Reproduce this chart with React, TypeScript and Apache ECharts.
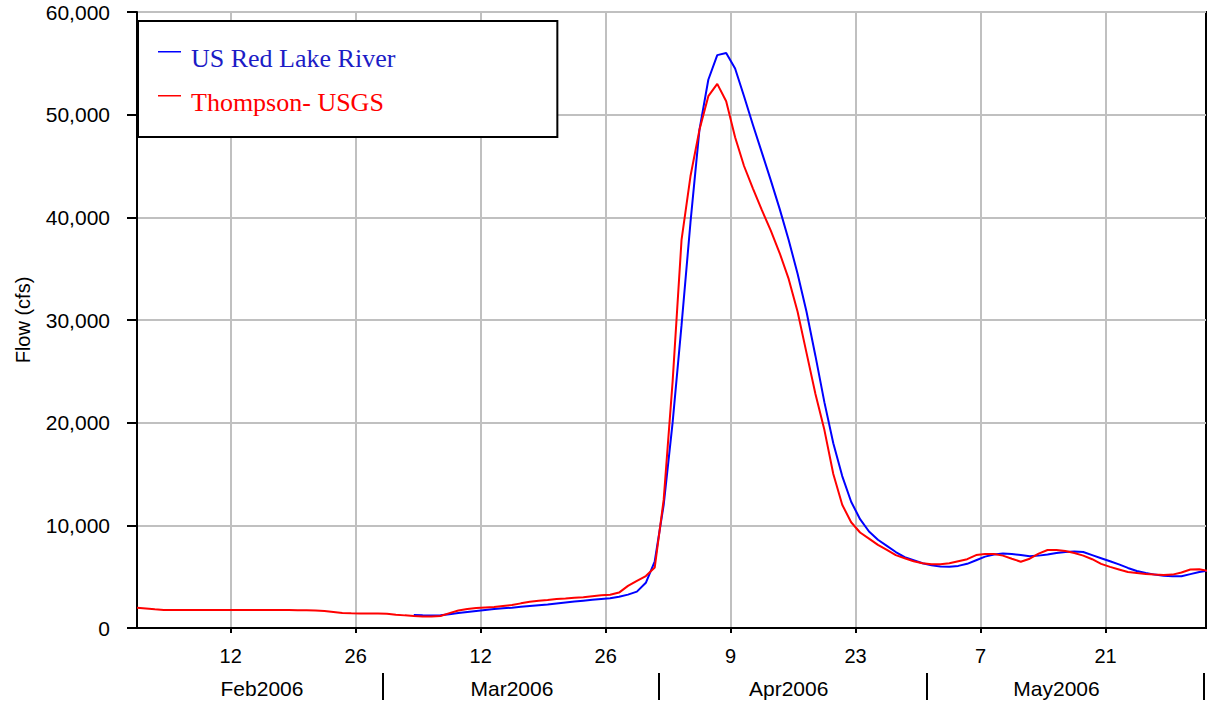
import React, { useEffect, useRef } from 'react';
import * as echarts from 'echarts';

// ---- data (daily mean flow, cfs) ----
const ORIGIN = Date.UTC(2006, 1, 1);
const dayOf = (s: string) => {
  const [y, m, d] = s.split('-').map(Number);
  return (Date.UTC(y, m - 1, d) - ORIGIN) / 86400000;
};

const seriesNames = ['US Red Lake River', 'Thompson- USGS'];

const redStart = '2006-02-01';
const redFlow = [
  1980, 1900, 1820, 1760, 1750, 1750, 1750, 1750, 1750, 1750,
  1750, 1750, 1750, 1750, 1750, 1750, 1750, 1750, 1740, 1720,
  1700, 1650, 1560, 1470, 1430, 1420, 1420, 1410, 1380, 1300,
  1230, 1170, 1120, 1110, 1170, 1450, 1700, 1850, 1950, 2000,
  2050, 2150, 2240, 2400, 2550, 2650, 2730, 2820, 2880, 2950,
  3000, 3100, 3200, 3230, 3450, 4100, 4600, 5060, 5900, 12500,
  24000, 37800, 44000, 48500, 51800, 53000, 51300, 47800, 45000, 42800,
  40700, 38700, 36500, 34000, 30800, 26800, 22800, 19300, 15000, 12000,
  10300, 9300, 8700, 8100, 7600, 7100, 6800, 6500, 6300, 6200,
  6200, 6300, 6500, 6700, 7100, 7200, 7200, 7050, 6750, 6460,
  6750, 7250, 7600, 7600, 7500, 7300, 7050, 6700, 6250, 5950,
  5700, 5450, 5350, 5250, 5200, 5160, 5200, 5400, 5700, 5720,
  5550,
];

const blueStart = '2006-03-04';
const blueFlow = [
  1270, 1240, 1220, 1250, 1350, 1450, 1550, 1650, 1750, 1850,
  1920, 1980, 2060, 2140, 2220, 2300, 2390, 2480, 2570, 2660,
  2750, 2830, 2900, 3050, 3250, 3540, 4400, 6500, 12000, 20000,
  29500, 39500, 48500, 53400, 55800, 56000, 54500, 51800, 49000, 46300,
  43600, 40800, 37800, 34500, 30800, 26500, 22000, 18000, 14800, 12300,
  10600, 9400, 8600, 8000, 7400, 6900, 6600, 6300, 6100, 6000,
  5970, 6050, 6250, 6600, 6950, 7150, 7250, 7200, 7100, 7000,
  7050, 7150, 7300, 7400, 7450, 7400, 7100, 6800, 6500, 6200,
  5850, 5550, 5350, 5200, 5100, 5050, 5050, 5250, 5450, 5600,
];

const xTickDates = ['2006-02-12', '2006-02-26', '2006-03-12', '2006-03-26', '2006-04-09', '2006-04-23', '2006-05-07', '2006-05-21'];
const xTickLabels = ['12', '26', '12', '26', '9', '23', '7', '21'];
const monthBreakDates = ['2006-03-01', '2006-04-01', '2006-05-01', '2006-06-01'];
const monthLabelDates = ['2006-02-15', '2006-03-15', '2006-04-15', '2006-05-15'];
const monthLabels = ['Feb2006', 'Mar2006', 'Apr2006', 'May2006'];

const X_MIN = 0.5;
const X_MAX = 120.25;

const toSeries = (start: string, vals: number[]) => {
  const s = dayOf(start);
  return vals.map((v, i) => [s + i + 0.5, v]);
};

const SANS = '"Liberation Sans", Arial, sans-serif';
const SERIF = '"Liberation Serif", "Times New Roman", serif';
// legend mark: a short line sitting at the top of a taller (invisible) icon box
const LEGEND_ICON = 'path://M0,0H23V1.5H0Z M0,13.98H0.02V14H0Z';

export default function App() {
  const ref = useRef<HTMLDivElement>(null);
  useEffect(() => {
    if (!ref.current) return;
    const chart = echarts.init(ref.current, undefined, { renderer: 'svg' });
    const tickVals = xTickDates.map(dayOf);
    const monthVals = monthLabelDates.map((d) => dayOf(d) + 0.5);
    const breakVals = monthBreakDates.map(dayOf);
    const findIdx = (arr: number[], v: number) => arr.findIndex((a) => Math.abs(a - v) < 0.01);

    chart.setOption({
      animation: false,
      backgroundColor: '#fff',
      grid: {
        left: 137, top: 12, right: 8, bottom: 78,
        show: true, borderColor: '#000', borderWidth: 2, backgroundColor: 'transparent',
      },
      legend: {
        orient: 'vertical',
        left: 138, top: 21,
        padding: [22, 162, 20, 20],
        itemGap: 14,
        itemWidth: 23, itemHeight: 14,
        icon: LEGEND_ICON,
        selectedMode: false,
        borderColor: '#000', borderWidth: 2, backgroundColor: '#fff',
        textStyle: { fontFamily: SERIF, fontSize: 26, lineHeight: 30, padding: [0, 0, 0, 5] },
        data: [
          { name: seriesNames[0], textStyle: { color: '#1c1cc6' } },
          { name: seriesNames[1], textStyle: { color: '#ff0000' } },
        ],
      },
      xAxis: [
        {
          type: 'value', min: X_MIN, max: X_MAX,
          axisLine: { show: true, onZero: false, lineStyle: { color: '#000', width: 2 } },
          axisTick: { show: true, inside: false, length: 5, customValues: tickVals, lineStyle: { color: '#000', width: 2 } },
          axisLabel: {
            customValues: tickVals, margin: 18, color: '#000', fontFamily: SANS, fontSize: 20,
            formatter: (v: number) => xTickLabels[findIdx(tickVals, v)] ?? '',
          },
          splitLine: { show: true, lineStyle: { color: '#c0c0c0', width: 2 } },
        },
        {
          type: 'value', min: X_MIN, max: X_MAX, position: 'bottom', offset: 45,
          axisLine: { show: true, onZero: false, lineStyle: { color: '#000', width: 2, opacity: 0 } },
          axisTick: { show: true, inside: false, length: 27, customValues: breakVals, lineStyle: { color: '#000', width: 2 } },
          axisLabel: {
            customValues: monthVals, margin: 5, color: '#000', fontFamily: SANS, fontSize: 21,
            formatter: (v: number) => monthLabels[findIdx(monthVals, v)] ?? '',
          },
          splitLine: { show: false },
        },
      ],
      yAxis: {
        type: 'value', min: 0, max: 60000, interval: 10000,
        name: 'Flow (cfs)', nameLocation: 'middle', nameGap: 104, nameRotate: 90,
        nameTextStyle: { fontFamily: SANS, fontSize: 20, color: '#000' },
        axisLine: { show: true, lineStyle: { color: '#000', width: 2 } },
        axisTick: { show: true, length: 10, lineStyle: { color: '#000', width: 2 } },
        axisLabel: {
          margin: 27, color: '#000', fontFamily: SANS, fontSize: 21,
          formatter: (v: number) => v.toLocaleString('en-US'),
        },
        splitLine: { show: true, lineStyle: { color: '#c0c0c0', width: 2 } },
      },
      series: [
        {
          name: seriesNames[0], type: 'line', xAxisIndex: 0, showSymbol: false, symbol: 'none',
          data: toSeries(blueStart, blueFlow), color: '#0000ff',
          lineStyle: { color: '#0000ff', width: 2 }, clip: true,
        },
        {
          name: seriesNames[1], type: 'line', xAxisIndex: 0, showSymbol: false, symbol: 'none',
          data: toSeries(redStart, redFlow), color: '#ff0000',
          lineStyle: { color: '#ff0000', width: 2 }, clip: true,
        },
      ],
    });
    return () => chart.dispose();
  }, []);
  return <div ref={ref} style={{ position: 'fixed', left: 0, top: 0, width: 1214, height: 706 }} />;
}
